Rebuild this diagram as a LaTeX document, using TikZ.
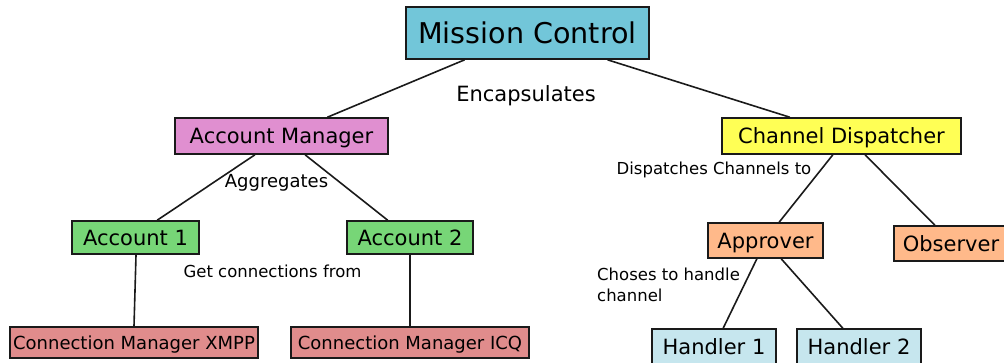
\documentclass[tikz,border=0pt]{standalone}
\usepackage{fontspec}
\setmainfont{DejaVu Sans}
\usetikzlibrary{calc}
\definecolor{mcblue}{HTML}{72C6D9}
\definecolor{ampink}{HTML}{E08FD0}
\definecolor{cdyellow}{HTML}{FFFF55}
\definecolor{acgreen}{HTML}{77D677}
\definecolor{aporange}{HTML}{FFB98A}
\definecolor{cmred}{HTML}{E08C8C}
\definecolor{hdcyan}{HTML}{C6E6EE}
\definecolor{edge}{HTML}{1A1A1A}
\tikzset{
  box/.style={draw=edge, line width=1.6pt, inner sep=0pt, text depth=0pt},
  bigbox/.style={box, font=\fontsize{21}{24}\selectfont, text height=15.3pt},
  cmbox/.style={box, font=\fontsize{18}{21}\selectfont, text height=13.1pt},
  conn/.style={draw=edge, line width=1.6pt},
  lbl/.style={inner sep=0pt, anchor=base, font=\fontsize{16.5}{21}\selectfont},
}
\begin{document}
\begin{tikzpicture}[x=1pt,y=-1pt]
\useasboundingbox (0,0) rectangle (1004,362);
% nodes
\node[box, fill=mcblue, minimum width=243pt, minimum height=52pt,
      font=\fontsize{28.6}{32}\selectfont, text height=20.8pt] (mc) at (527.5,33) {Mission Control};
\node[bigbox, fill=ampink, minimum width=213pt, minimum height=36pt] (am) at (281.5,136) {Account Manager};
\node[bigbox, fill=cdyellow, minimum width=239pt, minimum height=36pt] (cd) at (841.5,136) {Channel Dispatcher};
\node[bigbox, fill=acgreen, minimum width=127pt, minimum height=33pt] (a1) at (135.5,237.5) {Account 1};
\node[bigbox, fill=acgreen, minimum width=126pt, minimum height=33pt] (a2) at (410,237.5) {Account 2};
\node[bigbox, fill=aporange, minimum width=115pt, minimum height=35pt] (ap) at (765.5,240.5) {Approver};
\node[bigbox, fill=aporange, minimum width=114pt, minimum height=35pt] (ob) at (951,243.5) {Observer};
\node[cmbox, fill=cmred, minimum width=248pt, minimum height=31pt] (xm) at (134,342.5) {Connection Manager XMPP};
\node[cmbox, fill=cmred, minimum width=238pt, minimum height=31pt] (icq) at (410,342.5) {Connection Manager ICQ};
\node[bigbox, fill=hdcyan, minimum width=124pt, minimum height=35pt] (h1) at (714,346.5) {Handler 1};
\node[bigbox, fill=hdcyan, minimum width=124pt, minimum height=35pt] (h2) at (859,346.5) {Handler 2};
% connectors
\draw[conn] ($(mc.south west)!0.243!(mc.south east)$) -- ($(am.north west)!0.714!(am.north east)$);
\draw[conn] ($(mc.south west)!0.827!(mc.south east)$) -- ($(cd.north west)!0.285!(cd.north east)$);
\draw[conn] ($(am.south west)!0.376!(am.south east)$) -- ($(a1.north west)!0.669!(a1.north east)$);
\draw[conn] ($(am.south west)!0.610!(am.south east)$) -- ($(a2.north west)!0.325!(a2.north east)$);
\draw[conn] ($(a1.south west)!0.504!(a1.south east)$) -- ($(xm.north west)!0.5!(xm.north east)$);
\draw[conn] (a2.south) -- (icq.north);
\draw[conn] ($(cd.south west)!0.464!(cd.south east)$) -- ($(ap.north west)!0.617!(ap.north east)$);
\draw[conn] ($(cd.south west)!0.598!(cd.south east)$) -- ($(ob.north west)!0.36!(ob.north east)$);
\draw[conn] ($(ap.south west)!0.426!(ap.south east)$) -- ($(h1.north west)!0.573!(h1.north east)$);
\draw[conn] ($(ap.south west)!0.635!(ap.south east)$) -- ($(h2.north west)!0.371!(h2.north east)$);
% labels
\node[lbl, font=\fontsize{21}{24}\selectfont] (lenc) at (526,101.7) {Encapsulates};
\node[lbl, font=\fontsize{18}{21}\selectfont] (lagg) at (276.5,187) {Aggregates};
\node[lbl] (lget) at (272.5,277) {Get connections from};
\node[lbl] (ldis) at (714,174) {Dispatches Channels to};
\node[lbl, anchor=north west, align=left] (lcho) at (597,267.5) {Choses to handle\\channel};
\end{tikzpicture}
\end{document}
